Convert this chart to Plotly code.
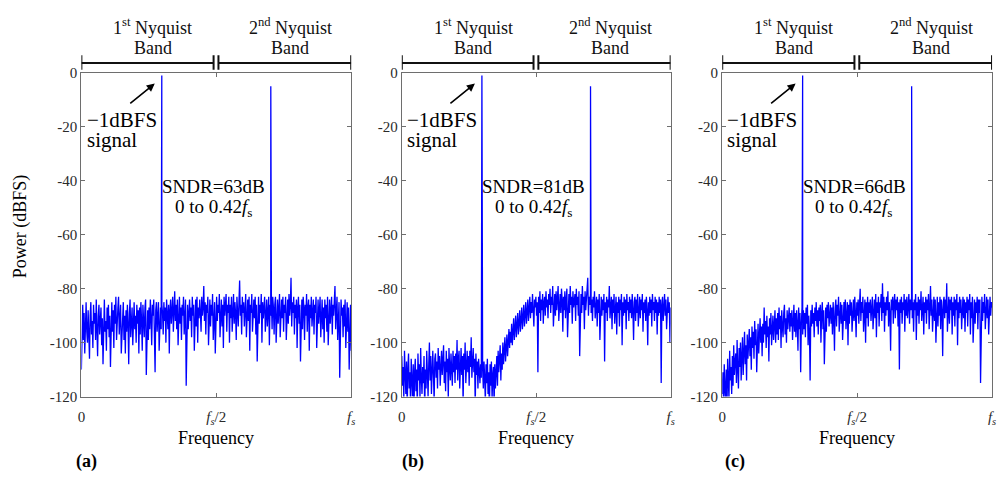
import numpy as np
import plotly.graph_objects as go

# ---------------------------------------------------------------------------
# Output spectra of the ADC for three configurations (a), (b), (c).
# Frequency is normalised to the sampling rate fs (0 .. 1).
# ---------------------------------------------------------------------------
panel_tags = ["(a)", "(b)", "(c)"]
sndr_db = [63, 81, 66]

# input tone (1st Nyquist band) and its image (2nd Nyquist band)
tone_freq = [0.298, 0.702]
tone_power = [
    [-1, -5],
    [-1, -5],
    [-1, -5],
]

# noise floor, dBFS, evenly spaced bins over 0 .. fs (20 bins per row)
noise_a = [
    -110, -93, -86, -99, -89, -104, -91, -85, -96, -100, -88, -94, -106, -90, -85, -97, -92, -102, -86, -93,
    -89, -99, -84, -95, -105, -90, -86, -97, -93, -87, -101, -91, -108, -89, -84, -96, -92, -103, -87, -95,
    -86, -98, -90, -109, -92, -85, -96, -88, -102, -86, -93, -83, -99, -90, -87, -83, -97, -91, -86, -104,
    -94, -87, -85, -99, -90, -104, -88, -96, -86, -93, -108, -89, -84, -98, -91, -87, -101, -89, -85, -95,
    -90, -100, -86, -93, -88, -104, -87, -97, -85, -92, -103, -86, -90, -98, -87, -84, -112, -93, -88, -99,
    -87, -95, -84, -91, -101, -86, -90, -84, -98, -111, -88, -85, -96, -90, -85, -103, -92, -87, -95, -86,
    -89, -97, -85, -92, -87, -100, -84, -90, -95, -86, -104, -88, -84, -93, -87, -83, -96, -89, -81, -92,
    -86, -95, -84, -101, -89, -83, -93, -87, -99, -86, -90, -83, -97, -88, -84, -116, -92, -86, -95, -88,
    -84, -92, -87, -98, -83, -90, -86, -103, -88, -84, -94, -83, -100, -87, -91, -84, -89, -96, -83, -90,
    -87, -79, -92, -85, -97, -86, -89, -83, -101, -87, -84, -94, -86, -90, -82, -99, -88, -85, -104, -87,
    -83, -92, -86, -89, -82, -98, -87, -84, -94, -86, -102, -83, -90, -87, -82, -96, -86, -89, -83, -100,
    -86, -91, -83, -96, -87, -82, -93, -85, -89, -99, -83, -87, -94, -85, -77, -90, -86, -97, -83, -89,
    -85, -94, -86, -82, -98, -87, -84, -92, -83, -103, -86, -89, -82, -96, -87, -84, -91, -83, -97, -86,
    -107, -87, -83, -93, -86, -89, -82, -100, -85, -91, -87, -83, -96, -86, -84, -94, -88, -83, -101, -86,
    -90, -84, -95, -83, -87, -97, -86, -83, -100, -88, -84, -93, -86, -82, -98, -87, -84, -91, -83, -96,
    -86, -89, -83, -99, -87, -84, -93, -82, -90, -86, -76, -94, -85, -89, -83, -97, -86, -91, -84, -102,
    -87, -83, -93, -86, -107, -88, -84, -95, -83, -87, -99, -86, -90, -82, -96, -87, -84, -103, -86, -91,
    -83, -94, -87, -84, -97, -86, -89, -83, -102, -87, -84, -93, -86, -83, -98, -88, -84, -95, -87, -100,
    -84, -91, -86, -96, -83, -101, -88, -84, -93, -87, -83, -97, -86, -90, -84, -79, -95, -87, -83, -99,
    -88, -85, -113, -93, -84, -90, -87, -98, -86, -94, -84, -102, -88, -85, -96, -87, -110, -90, -86, -103,
]

noise_b = [
    -105, -116, -109, -121, -103, -113, -119, -107, -125, -110, -104, -117, -111, -123, -106, -114, -120, -108, -127, -111,
    -106, -118, -110, -124, -104, -114, -108, -121, -102, -113, -119, -109, -115, -105, -126, -110, -117, -103, -112, -120,
    -108, -100, -114, -105, -119, -109, -103, -112, -122, -106, -104, -113, -107, -117, -102, -110, -105, -116, -109, -103,
    -112, -105, -101, -115, -107, -118, -103, -111, -106, -121, -102, -109, -114, -104, -108, -116, -103, -111, -105, -115,
    -104, -110, -99, -114, -106, -103, -117, -107, -102, -112, -105, -123, -104, -110, -100, -115, -106, -103, -111, -105,
    -116, -103, -109, -98, -113, -105, -102, -111, -106, -124, -104, -112, -107, -117, -106, -110, -115, -108, -113, -107,
    -110, -117, -107, -113, -122, -108, -115, -106, -119, -111, -127, -108, -116, -107, -121, -112, -109, -124, -108, -117,
    -112, -105, -116, -103, -111, -107, -101, -114, -104, -110, -100, -108, -102, -98, -107, -101, -97, -105, -99, -95,
    -102, -96, -100, -93, -101, -95, -91, -99, -94, -90, -98, -92, -89, -97, -91, -88, -96, -90, -87, -95,
    -90, -86, -94, -88, -85, -93, -87, -84, -92, -86, -83, -91, -85, -89, -82, -88, -94, -84, -87, -83,
    -90, -85, -111, -83, -89, -81, -92, -84, -88, -82, -93, -85, -83, -90, -81, -87, -84, -91, -82, -86,
    -80, -89, -83, -86, -79, -94, -84, -82, -90, -81, -88, -83, -79, -92, -85, -82, -89, -80, -84, -96,
    -83, -88, -81, -91, -84, -80, -98, -85, -82, -89, -79, -86, -83, -93, -81, -87, -84, -82, -92, -80,
    -86, -83, -90, -81, -105, -84, -82, -89, -79, -86, -83, -95, -81, -88, -84, -82, -76, -90, -83, -86,
    -82, -89, -84, -92, -83, -87, -81, -91, -85, -83, -94, -84, -89, -82, -99, -85, -83, -90, -84, -88,
    -82, -107, -85, -89, -83, -92, -84, -87, -79, -91, -85, -83, -95, -84, -89, -82, -93, -85, -83, -97,
    -85, -89, -83, -94, -84, -88, -82, -101, -85, -90, -83, -89, -84, -95, -82, -88, -85, -92, -83, -89,
    -84, -91, -82, -88, -99, -85, -83, -92, -84, -89, -82, -94, -85, -83, -91, -84, -88, -82, -96, -85,
    -89, -84, -92, -83, -88, -101, -85, -90, -83, -89, -84, -94, -82, -88, -85, -92, -83, -89, -84, -97,
    -85, -90, -83, -89, -84, -115, -86, -83, -92, -85, -82, -90, -84, -95, -85, -83, -89, -85, -100, -87,
]

noise_c = [
    -119, -111, -124, -108, -117, -122, -110, -127, -106, -115, -121, -103, -114, -109, -119, -105, -116, -101, -112, -107,
    -104, -115, -99, -110, -117, -102, -109, -100, -114, -105, -98, -112, -103, -96, -108, -101, -114, -97, -106, -99,
    -95, -105, -98, -110, -94, -102, -96, -106, -92, -101, -95, -111, -97, -93, -104, -96, -91, -100, -94, -105,
    -93, -100, -87, -97, -92, -102, -90, -98, -94, -107, -91, -97, -89, -101, -93, -90, -99, -92, -88, -100,
    -91, -97, -89, -99, -87, -95, -90, -102, -88, -94, -98, -89, -86, -97, -91, -100, -88, -95, -90, -87,
    -96, -89, -94, -88, -99, -90, -86, -96, -89, -98, -88, -93, -103, -87, -95, -89, -111, -93, -87, -97,
    -88, -95, -89, -98, -87, -93, -86, -101, -90, -96, -114, -88, -94, -86, -93, -89, -98, -87, -92, -85,
    -94, -88, -97, -87, -92, -86, -100, -89, -85, -95, -88, -108, -90, -87, -96, -86, -91, -85, -94, -88,
    -86, -93, -87, -97, -85, -91, -103, -87, -84, -94, -86, -90, -83, -96, -87, -85, -93, -86, -99, -88,
    -85, -92, -84, -95, -87, -85, -101, -86, -93, -84, -90, -85, -96, -86, -84, -92, -83, -89, -98, -85,
    -90, -84, -93, -86, -80, -92, -85, -89, -83, -96, -86, -84, -100, -85, -91, -83, -94, -85, -89, -84,
    -92, -85, -83, -95, -86, -84, -91, -82, -98, -85, -89, -83, -94, -85, -87, -82, -92, -78, -89, -83,
    -96, -85, -90, -83, -88, -81, -94, -85, -89, -103, -84, -88, -83, -93, -85, -82, -91, -84, -88, -83,
    -94, -85, -110, -84, -89, -83, -93, -85, -88, -82, -96, -84, -90, -83, -91, -85, -82, -93, -84, -88,
    -83, -91, -85, -96, -84, -88, -82, -99, -85, -90, -83, -93, -84, -88, -81, -92, -85, -83, -97, -85,
    -89, -83, -93, -84, -88, -82, -95, -85, -79, -90, -84, -96, -85, -83, -92, -84, -100, -86, -83, -94,
    -85, -90, -83, -95, -84, -88, -105, -85, -83, -91, -84, -89, -78, -96, -85, -83, -93, -84, -88, -83,
    -97, -85, -90, -83, -94, -84, -88, -82, -101, -85, -91, -83, -89, -84, -95, -85, -83, -91, -84, -96,
    -85, -89, -83, -94, -84, -88, -82, -97, -85, -91, -83, -100, -86, -84, -93, -85, -89, -83, -95, -84,
    -89, -84, -115, -86, -83, -92, -85, -89, -82, -95, -85, -83, -91, -84, -97, -85, -83, -90, -85, -87,
]

noise_sets = [noise_a, noise_b, noise_c]

y_ticks = [-120, -100, -80, -60, -40, -20, 0]
x_ticks = [0, 0.5, 1]
x_ticktext = ["0", "<i>f<sub>s</sub></i>/2", "<i>f<sub>s</sub></i>"]

# ---------------------------------------------------------------------------
W, H = 1002, 480
SERIF = "Liberation Serif"
BLUE = "#0000ff"
AXC = "#6e6e6e"

# plot-area pixel boxes (left, right) and common top/bottom
x_px = [(78, 350), (401, 672), (724, 996)]
top_px, bot_px = 67, 402


def px(x):
    return x / W


def py(y):
    return 1 - y / H


def spectrum(noise, tones_f, tones_p):
    f = np.linspace(0, 1, len(noise))
    p = np.array(noise, dtype=float)
    f = np.concatenate([f, tones_f])
    p = np.concatenate([p, tones_p])
    order = np.argsort(f, kind="stable")
    return f[order], p[order]


fig = go.Figure()
annotations = []
shapes = []

for k in range(3):
    xa = "x" if k == 0 else f"x{k + 1}"
    ya = "y" if k == 0 else f"y{k + 1}"
    f, p = spectrum(noise_sets[k], tone_freq, tone_power[k])
    fig.add_trace(go.Scatter(
        x=f, y=p, mode="lines", xaxis=xa, yaxis=ya,
        line=dict(color=BLUE, width=1.3), showlegend=False, hoverinfo="skip",
    ))

    l, r = x_px[k]
    axis_common = dict(
        showline=True, linecolor=AXC, linewidth=1.2, mirror="ticks",
        ticks="inside", ticklen=4, tickcolor=AXC, tickwidth=1,
        showgrid=False, zeroline=False,
        tickfont=dict(family=SERIF, size=15, color="#2a2a2a"),
    )
    fig.update_layout(**{
        ("xaxis" if k == 0 else f"xaxis{k + 1}"): dict(
            domain=[px(l), px(r)], range=[0, 1], anchor=ya,
            tickvals=x_ticks, ticktext=x_ticktext, ticklabelstandoff=6,
            **axis_common),
        ("yaxis" if k == 0 else f"yaxis{k + 1}"): dict(
            domain=[py(bot_px), py(top_px)], range=[-120, 0], anchor=xa,
            tickvals=y_ticks, ticktext=[str(v) for v in y_ticks], **axis_common),
    })

    # Nyquist band brackets above the plot
    for (a, b) in [(0.0, 0.49), (0.508, 1.0)]:
        shapes.append(dict(type="line", xref=xa, yref="paper", x0=a, x1=b,
                           y0=py(57), y1=py(57), line=dict(color="#111", width=2)))
        for e in (a, b):
            shapes.append(dict(type="line", xref=xa, yref="paper", x0=e, x1=e,
                               y0=py(49), y1=py(64), line=dict(color="#111", width=2)))

    txt = dict(family=SERIF, size=18, color="#111")
    annotations += [
        dict(x=0.265, y=py(19), xref=xa, yref="paper", text="1<sup>st</sup> Nyquist",
             showarrow=False, font=txt, xanchor="center", yanchor="middle"),
        dict(x=0.265, y=py(41), xref=xa, yref="paper", text="Band",
             showarrow=False, font=txt, xanchor="center", yanchor="middle"),
        dict(x=0.775, y=py(19), xref=xa, yref="paper", text="2<sup>nd</sup> Nyquist",
             showarrow=False, font=txt, xanchor="center", yanchor="middle"),
        dict(x=0.775, y=py(41), xref=xa, yref="paper", text="Band",
             showarrow=False, font=txt, xanchor="center", yanchor="middle"),
    ]

    big = dict(family=SERIF, size=21, color="#000")
    mid = dict(family=SERIF, size=19, color="#000")
    annotations += [
        dict(x=0.272, y=-4, xref=xa, yref=ya, text="", showarrow=True,
             ax=-26, ay=21, axref="pixel", ayref="pixel",
             arrowhead=2, arrowsize=1, arrowwidth=1.6, arrowcolor="#000"),
        dict(x=0.012, y=py(116), xref=xa, yref="paper", text="\u22121dBFS",
             showarrow=False, font=big, xanchor="left", yanchor="middle"),
        dict(x=0.012, y=py(137), xref=xa, yref="paper", text="signal",
             showarrow=False, font=big, xanchor="left", yanchor="middle"),
        dict(x=0.49, y=py(185), xref=xa, yref="paper", text=f"SNDR={sndr_db[k]}dB",
             showarrow=False, font=mid, xanchor="center", yanchor="middle"),
        dict(x=0.49, y=py(207), xref=xa, yref="paper",
             text="0 to 0.42<i>f</i><sub>s</sub>",
             showarrow=False, font=mid, xanchor="center", yanchor="middle"),
        dict(x=0.5, y=py(445), xref=xa, yref="paper", text="Frequency",
             showarrow=False, font=dict(family=SERIF, size=18, color="#000"),
             xanchor="center", yanchor="middle"),
    ]

tag_x = [83, 412, 737]
for k in range(3):
    annotations.append(dict(x=px(tag_x[k]), y=py(469), xref="paper", yref="paper",
                            text=f"<b>{panel_tags[k]}</b>", showarrow=False,
                            font=dict(family=SERIF, size=18, color="#000"),
                            xanchor="center", yanchor="middle"))

annotations.append(dict(x=px(17), y=py(226), xref="paper", yref="paper",
                        text="Power (dBFS)", textangle=-90, showarrow=False,
                        font=dict(family=SERIF, size=18, color="#000"),
                        xanchor="center", yanchor="middle"))

fig.update_layout(
    width=W, height=H,
    margin=dict(l=0, r=0, t=0, b=0),
    paper_bgcolor="white", plot_bgcolor="white",
    font=dict(family=SERIF),
    annotations=annotations, shapes=shapes,
)

fig.write_html("out.html")
